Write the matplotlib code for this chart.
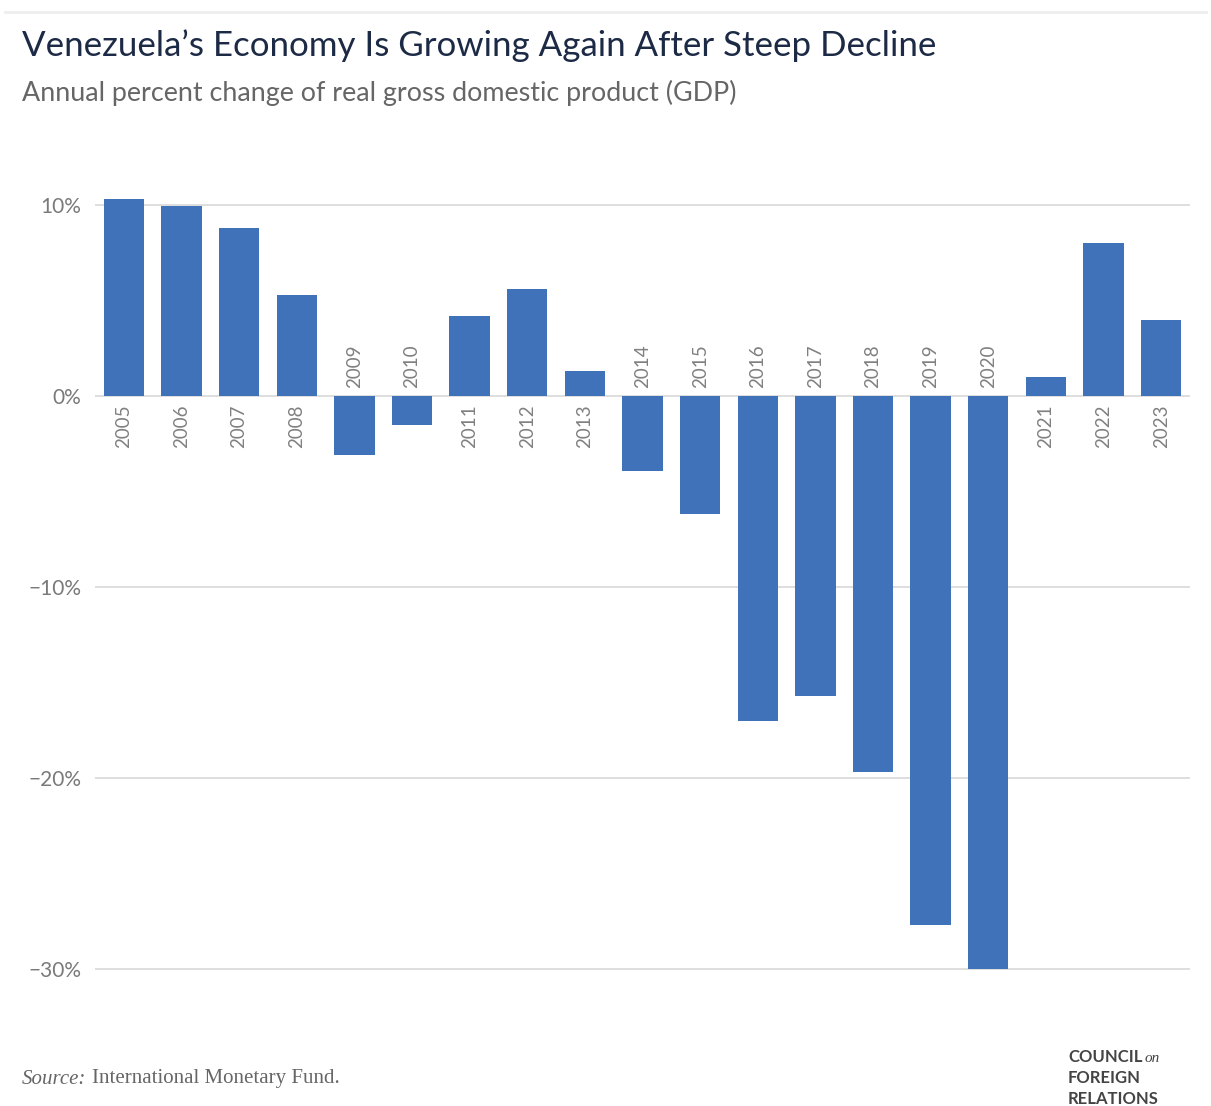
import matplotlib
matplotlib.use("Agg")
import matplotlib.pyplot as plt

years = [str(y) for y in range(2005, 2024)]
gdp_change = [10.3, 9.95, 8.8, 5.3, -3.1, -1.5, 4.2, 5.6, 1.3, -3.9, -6.2,
              -17.0, -15.7, -19.7, -27.7, -30.0, 1.0, 8.0, 4.0]
y_ticks = [10, 0, -10, -20, -30]
y_tick_labels = ["10%", "0%", "\u221210%", "\u221220%", "\u221230%"]

W, H = 1211, 1106
fig = plt.figure(figsize=(W / 100, H / 100), dpi=100)

# axes placed so that 10% sits at y=205px and -30% at y=969px
ax = fig.add_axes([95 / W, 1 - 988 / H, (1190 - 95) / W, (988 - 186) / H])
ax.set_xlim(-0.5, len(years) - 0.5)
ax.set_ylim(-31, 11)

bar_color = "#3f72b8"
x = list(range(len(years)))
ax.bar(x, gdp_change, width=0.7, color=bar_color, zorder=3)

ax.set_yticks(y_ticks)
ax.set_yticklabels(y_tick_labels, fontsize=15, color="#7a7a7a", family="Lato")
ax.tick_params(axis="y", length=0, pad=10)
ax.set_xticks([])
ax.grid(axis="y", color="#d8d8d8", linewidth=1.2, zorder=0)
for s in ax.spines.values():
    s.set_visible(False)

# year labels next to the zero line
for xi, v, lab in zip(x, gdp_change, years):
    if v >= 0:
        ax.annotate(lab, (xi, 0), xytext=(0, -6), textcoords="offset points",
                    rotation=90, ha="center", va="top", fontsize=13.5,
                    color="#808080", family="Lato")
    else:
        ax.annotate(lab, (xi, 0), xytext=(0, 6), textcoords="offset points",
                    rotation=90, ha="center", va="bottom", fontsize=13.5,
                    color="#808080", family="Lato")

# thin band at top
fig.add_artist(plt.Line2D([5 / W, 1 - 5 / W], [1 - 12 / H, 1 - 12 / H],
                          color="#eeeeee", linewidth=2))

fig.text(22 / W, 1 - 46 / H, "Venezuela\u2019s Economy Is Growing Again After Steep Decline",
         fontsize=25.1, color="#1c2a45", family="Lato", va="center", ha="left")
fig.text(22 / W, 1 - 93 / H, "Annual percent change of real gross domestic product (GDP)",
         fontsize=19.4, color="#666666", family="Lato", va="center", ha="left")

src = fig.text(22 / W, 1 - 1079 / H, "Source:", fontsize=15, color="#666666",
               family="Liberation Serif", style="italic", va="center", ha="left")
ax.annotate("International Monetary Fund.", xy=(1, 0.5), xycoords=src,
            xytext=(4, 0), textcoords="offset points", fontsize=15,
            color="#666666", family="Liberation Serif", va="center", ha="left",
            annotation_clip=False)

fig.text(1068 / W, 1 - 1057 / H, "COUNCIL", fontsize=12, color="#444444",
         family="Lato", weight="bold", va="center", ha="left")
fig.text(1145 / W, 1 - 1059 / H, "on", fontsize=11, color="#444444",
         family="Liberation Serif", style="italic", va="center", ha="left")
fig.text(1068 / W, 1 - 1078 / H, "FOREIGN", fontsize=12, color="#444444",
         family="Lato", weight="bold", va="center", ha="left")
fig.text(1068 / W, 1 - 1099 / H, "RELATIONS", fontsize=12, color="#444444",
         family="Lato", weight="bold", va="center", ha="left")

fig.savefig("out.png", dpi=100)
